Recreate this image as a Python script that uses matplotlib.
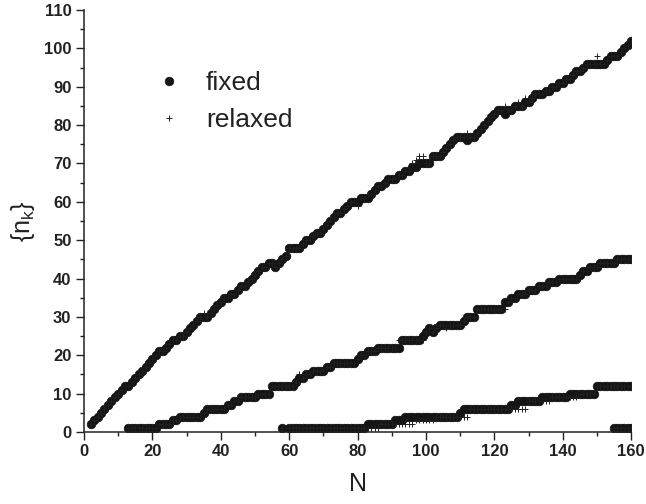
import matplotlib
matplotlib.use('Agg')
import matplotlib.pyplot as plt
from matplotlib.ticker import MultipleLocator

plt.rcParams['font.family'] = ['Liberation Sans', 'DejaVu Sans']
plt.rcParams['mathtext.default'] = 'regular'

# ---------------- data ----------------
n_branch1 = list(range(2, 161))
fixed1 = [2, 3, 4, 5, 6, 7, 8, 9, 10, 11, 12,
          12, 13, 14, 15, 16, 17, 18, 19, 20,
          21, 21, 22, 23, 24, 24, 25, 25, 26,
          27, 28, 29, 30, 30, 30, 31, 32, 33, 34,
          35, 35, 36, 36, 37, 38, 38, 39, 40, 41,
          42, 43, 43, 44, 44, 43, 44, 45, 46, 48,
          48, 48, 48, 49, 50, 50, 51, 52, 52, 53,
          54, 55, 56, 57, 57, 58, 59, 60, 60, 60,
          61, 61, 61, 62, 63, 64, 64, 65, 66, 66,
          66, 67, 67, 68, 68, 69, 69, 70, 70, 70,
          70, 72, 72, 72, 73, 74, 75, 76, 77, 77,
          77, 76, 77, 77, 78, 79, 80, 81, 82, 83,
          84, 84, 83, 84, 84, 85, 85, 85, 86, 86,
          87, 88, 88, 88, 89, 89, 90, 90, 91, 91,
          92, 92, 93, 94, 94, 95, 96, 96, 96, 96,
          96, 96, 97, 98, 98, 98, 99, 100, 101, 102]
relaxed1 = [2, 3, 4, 5, 6, 7, 8, 9, 10, 11, 12,
            12, 13, 14, 15, 16, 17, 18, 19, 20,
            21, 21, 22, 23, 24, 24, 25, 25, 26,
            27, 28, 29, 30, 31, 30, 31, 32, 33, 34,
            35, 35, 36, 36, 37, 38, 38, 39, 40, 41,
            42, 43, 43, 44, 44, 43, 44, 45, 46, 48,
            48, 48, 48, 49, 50, 50, 51, 52, 52, 53,
            54, 55, 56, 57, 57, 58, 59, 60, 60, 59,
            61, 61, 62, 62, 63, 64, 64, 65, 66, 66,
            66, 67, 67, 68, 68, 70, 71, 72, 72, 70,
            70, 72, 72, 72, 73, 74, 75, 76, 77, 77,
            77, 78, 77, 77, 78, 79, 80, 81, 82, 83,
            84, 84, 85, 84, 84, 85, 86, 85, 87, 86,
            87, 88, 88, 88, 89, 89, 90, 90, 91, 91,
            92, 92, 93, 94, 94, 95, 96, 96, 96, 98,
            96, 96, 97, 98, 98, 98, 99, 100, 101, 102]

n_branch2 = list(range(13, 161))
fixed2 = [1, 1, 1, 1, 1, 1, 1, 1,
          1, 2, 2, 2, 2, 3, 3, 4, 4, 4,
          4, 4, 4, 4, 5, 6, 6, 6, 6, 6,
          6, 7, 7, 8, 8, 9, 9, 9, 9, 9,
          10, 10, 10, 10, 12, 12, 12, 12, 12, 12,
          12, 13, 14, 14, 15, 15, 16, 16, 16, 16,
          17, 17, 18, 18, 18, 18, 18, 18, 18, 19,
          20, 20, 21, 21, 21, 22, 22, 22, 22, 22,
          22, 22, 24, 24, 24, 24, 24, 24, 25, 26,
          27, 26, 27, 28, 28, 28, 28, 28, 28, 28,
          29, 30, 30, 30, 32, 32, 32, 32, 32, 32,
          32, 32, 34, 34, 35, 35, 36, 36, 36, 37,
          37, 37, 38, 38, 38, 39, 39, 39, 40, 40,
          40, 40, 40, 40, 41, 42, 42, 43, 43, 43,
          44, 44, 44, 44, 44, 45, 45, 45, 45, 45]
relaxed2 = [1, 1, 1, 1, 1, 1, 1, 1,
            1, 2, 2, 2, 2, 3, 3, 4, 4, 4,
            4, 4, 4, 4, 5, 6, 6, 6, 6, 6,
            6, 7, 7, 8, 8, 9, 9, 9, 9, 9,
            10, 10, 10, 10, 12, 12, 12, 12, 12, 12,
            12, 13, 15, 14, 15, 15, 16, 16, 16, 16,
            17, 17, 18, 18, 18, 18, 18, 18, 18, 19,
            20, 20, 21, 21, 21, 22, 22, 22, 22, 22,
            22, 24, 24, 24, 24, 24, 24, 24, 24, 26,
            27, 26, 27, 28, 28, 27, 28, 28, 28, 28,
            29, 30, 30, 30, 32, 32, 32, 32, 32, 32,
            32, 32, 32, 34, 35, 35, 36, 36, 36, 37,
            37, 37, 38, 38, 38, 39, 39, 39, 40, 40,
            40, 40, 40, 40, 41, 42, 42, 43, 43, 43,
            44, 44, 44, 44, 44, 45, 45, 45, 45, 45]

n_branch3 = [58] + list(range(60, 161))
fixed3 = [1,
          1, 1, 1, 1, 1, 1, 1, 1, 1, 1,
          1, 1, 1, 1, 1, 1, 1, 1, 1, 1,
          1, 1, 1, 2, 2, 2, 2, 2, 2, 2,
          2, 3, 3, 3, 4, 4, 4, 4, 4, 4,
          4, 4, 4, 4, 4, 4, 4, 4, 4, 4,
          5, 6, 6, 6, 6, 6, 6, 6, 6, 6,
          6, 6, 6, 6, 6, 7, 7, 8, 8, 8,
          8, 8, 8, 8, 9, 9, 9, 9, 9, 9,
          9, 9, 10, 10, 10, 10, 10, 10, 10, 10,
          12, 12, 12, 12, 12, 12, 12, 12, 12, 12, 12]
relaxed3 = [1,
            1, 1, 1, 1, 1, 1, 1, 1, 1, 1,
            1, 1, 1, 1, 1, 1, 1, 1, 1, 1,
            1, 1, 1, 1, 1, 1, 1, 2, 2, 2,
            2, 2, 2, 2, 2, 2, 2, 3, 3, 3,
            3, 3, 3, 4, 4, 4, 4, 4, 4, 4,
            4, 4, 4, 6, 6, 6, 6, 6, 6, 6,
            6, 6, 6, 6, 6, 6, 6, 6, 6, 6,
            8, 8, 8, 8, 8, 8, 8, 9, 9, 9,
            9, 9, 9, 9, 9, 10, 10, 10, 10, 10,
            12, 12, 12, 12, 12, 12, 12, 12, 12, 12, 12]

n_branch4 = [155, 156, 157, 158, 159, 160]
fixed4 = [1, 1, 1, 1, 1, 1]
relaxed4 = [1, 1, 1, 1, 1, 1]

x_ticks = [0, 20, 40, 60, 80, 100, 120, 140, 160]
y_ticks = [0, 10, 20, 30, 40, 50, 60, 70, 80, 90, 100, 110]

# ---------------- figure ----------------
fig = plt.figure(figsize=(6.46, 5.04), dpi=100)
ax = fig.add_axes([0.130, 0.143, 0.847, 0.837])

dot_kw = dict(linestyle='none', marker='o', ms=6.2, color='#141414',
              mec='#141414', mew=0.5)
plus_kw = dict(linestyle='none', marker='+', ms=5, color='#202020', mew=0.7)

branches = [(n_branch1, fixed1, relaxed1), (n_branch2, fixed2, relaxed2),
            (n_branch3, fixed3, relaxed3), (n_branch4, fixed4, relaxed4)]
for i, (nn, ff, rr) in enumerate(branches):
    ax.plot(nn, ff, label='fixed' if i == 0 else None, **dot_kw)
for i, (nn, ff, rr) in enumerate(branches):
    ax.plot(nn, rr, label='relaxed' if i == 0 else None, **plus_kw)

ax.set_xlim(0, 160)
ax.set_ylim(0, 110)
ax.set_xticks(x_ticks)
ax.set_yticks(y_ticks)
ax.xaxis.set_minor_locator(MultipleLocator(10))
ax.yaxis.set_minor_locator(MultipleLocator(5))
for s in ['top', 'right']:
    ax.spines[s].set_visible(False)
for s in ['left', 'bottom']:
    ax.spines[s].set_linewidth(1.1)
    ax.spines[s].set_color('#222222')
ax.tick_params(which='major', direction='out', length=6, width=1.0,
               color='#222222', labelsize=12, labelcolor='#222222', pad=3)
ax.tick_params(which='minor', direction='out', length=3, width=1.0,
               color='#222222')
for lab in ax.get_xticklabels() + ax.get_yticklabels():
    lab.set_fontweight('bold')

ax.set_xlabel('N', fontsize=18, color='#222222', labelpad=9)
ax.set_ylabel(r'{n$_k$}', fontsize=18, color='#222222', labelpad=5)

leg = ax.legend(loc='upper left', bbox_to_anchor=(0.136, 0.855),
                frameon=False, fontsize=19, handlelength=0.8,
                handletextpad=1.0, borderpad=0, borderaxespad=0,
                labelspacing=0.5)
for t in leg.get_texts():
    t.set_color('#222222')

fig.savefig('out.png', dpi=100)
